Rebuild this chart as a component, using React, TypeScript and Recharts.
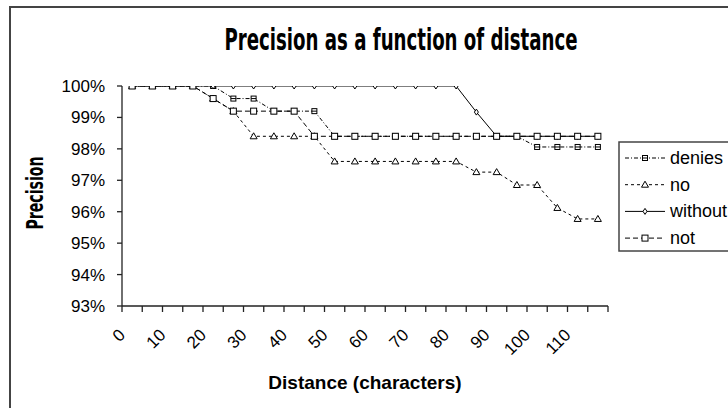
import React from 'react';
import { LineChart, Line, XAxis, YAxis } from 'recharts';

// ---- data ----
const distances = [0, 5, 10, 15, 20, 25, 30, 35, 40, 45, 50, 55, 60, 65, 70, 75, 80, 85, 90, 95, 100, 105, 110, 115];
const deniesValues = [100, 100, 100, 100, 100, 99.6, 99.6, 99.2, 99.2, 99.2, 98.4, 98.4, 98.4, 98.4, 98.4, 98.4, 98.4, 98.4, 98.4, 98.4, 98.06, 98.06, 98.06, 98.06];
const noValues = [100, 100, 100, 100, 99.6, 99.2, 98.4, 98.4, 98.4, 98.4, 97.6, 97.6, 97.6, 97.6, 97.6, 97.6, 97.6, 97.26, 97.26, 96.85, 96.85, 96.12, 95.77, 95.77];
const withoutValues = [100, 100, 100, 100, 100, 100, 100, 100, 100, 100, 100, 100, 100, 100, 100, 100, 100, 99.17, 98.4, 98.4, 98.4, 98.4, 98.4, 98.4];
const notValues = [100, 100, 100, 100, 99.6, 99.2, 99.2, 99.2, 99.2, 98.4, 98.4, 98.4, 98.4, 98.4, 98.4, 98.4, 98.4, 98.4, 98.4, 98.4, 98.4, 98.4, 98.4, 98.4];

const yTicks = [93, 94, 95, 96, 97, 98, 99, 100];
const xLabelTicks = [0, 10, 20, 30, 40, 50, 60, 70, 80, 90, 100, 110];
const xBoundaryTicks = [-2.5, 2.5, 7.5, 12.5, 17.5, 22.5, 27.5, 32.5, 37.5, 42.5, 47.5, 52.5, 57.5, 62.5, 67.5, 72.5, 77.5, 82.5, 87.5, 92.5, 97.5, 102.5, 107.5, 112.5, 117.5];
const xDomain = [-2.5, 117.5];

const seriesNames = ['denies', 'no', 'without', 'not'];
const seriesDash: (string | undefined)[] = ['4 2 1 2', '3 3', undefined, '5 3'];
const seriesMarker = ['squareLine', 'triangle', 'diamond', 'square'];

const data = distances.map((d, i) => ({
  d,
  denies: deniesValues[i],
  no: noValues[i],
  without: withoutValues[i],
  not: notValues[i],
}));

const ARIAL = '"Liberation Sans", Arial, sans-serif';
const NARROW = '"Liberation Sans Narrow", "DejaVu Sans Condensed", "Liberation Sans", sans-serif';

function Marker({ kind, cx, cy }: { kind: string; cx: number; cy: number }) {
  if (cx == null || cy == null) return null;
  switch (kind) {
    case 'square':
      return <rect x={cx - 3} y={cy - 3} width={6} height={6} fill="#fff" stroke="#000" strokeWidth={1} />;
    case 'squareLine':
      return (
        <g>
          <rect x={cx - 2.5} y={cy - 2.5} width={5} height={5} fill="#fff" stroke="#000" strokeWidth={1} />
          <line x1={cx - 2.5} x2={cx + 2.5} y1={cy} y2={cy} stroke="#000" strokeWidth={1} />
        </g>
      );
    case 'triangle':
      return <path d={`M${cx},${cy - 3.5}L${cx + 3.5},${cy + 2.5}L${cx - 3.5},${cy + 2.5}Z`} fill="#fff" stroke="#000" strokeWidth={1} />;
    case 'diamond':
      return <path d={`M${cx},${cy - 3}L${cx + 2},${cy}L${cx},${cy + 3}L${cx - 2},${cy}Z`} fill="#fff" stroke="#000" strokeWidth={1} />;
    default:
      return null;
  }
}

const XLabel = (props: any) => {
  const { x, y, payload } = props;
  const ax = x - 6;
  const ay = y + 24;
  return (
    <text x={ax} y={ay} transform={`rotate(-45 ${ax} ${ay})`} textAnchor="end" fontSize={17} fontFamily={ARIAL} fill="#000">
      {payload.value}
    </text>
  );
};

const EmptyTick = () => <g />;

export default function App() {
  return (
    <div style={{ position: 'absolute', left: 0, top: 0, width: 728, height: 408, overflow: 'hidden', background: '#fff' }}>
      <div style={{ position: 'absolute', left: 9, top: 6, width: 760, height: 440, border: '2px solid #444', boxSizing: 'border-box' }} />
      <div style={{ position: 'absolute', left: 0, top: 0 }}>
        <LineChart width={728} height={408} data={data} margin={{ top: 86, right: 120, bottom: 36, left: 0 }}>
          <XAxis
            xAxisId="a"
            dataKey="d"
            type="number"
            domain={xDomain}
            ticks={xBoundaryTicks}
            tick={<EmptyTick />}
            tickSize={6}
            height={6}
            stroke="#222"
            strokeWidth={1.3}
            allowDataOverflow
            interval={0}
          />
          <XAxis
            xAxisId="b"
            dataKey="d"
            type="number"
            domain={xDomain}
            ticks={xLabelTicks}
            tick={<XLabel />}
            tickLine={false}
            axisLine={false}
            tickSize={0}
            tickMargin={0}
            height={60}
            allowDataOverflow
            interval={0}
          />
          <YAxis
            type="number"
            domain={[93, 100]}
            ticks={yTicks}
            interval={0}
            width={122}
            tickSize={5}
            tickMargin={12}
            tickFormatter={(v: number) => `${v}%`}
            tick={{ fill: '#000', fontSize: 17, fontFamily: ARIAL }}
            stroke="#222"
            strokeWidth={1.3}
            allowDataOverflow
          />
          {seriesNames.map((name, si) => (
            <Line
              key={name}
              xAxisId="a"
              type="linear"
              dataKey={name}
              name={name}
              stroke="#000"
              strokeWidth={1}
              strokeDasharray={seriesDash[si]}
              isAnimationActive={false}
              dot={(p: any) => <Marker key={`${name}-${p.index}`} kind={seriesMarker[si]} cx={p.cx} cy={p.cy} />}
              activeDot={false}
            />
          ))}
        </LineChart>
      </div>
      <svg width={728} height={408} style={{ position: 'absolute', left: 0, top: 0, pointerEvents: 'none' }}>
        <text x={401} y={50} textAnchor="middle" fontFamily={NARROW} fontWeight="bold" fontSize={31} textLength={353} lengthAdjust="spacingAndGlyphs" fill="#000">
          Precision as a function of distance
        </text>
        <text x={43} y={193} transform="rotate(-90 43 193)" textAnchor="middle" fontFamily={NARROW} fontWeight="bold" fontSize={23} textLength={73} lengthAdjust="spacingAndGlyphs" fill="#000">
          Precision
        </text>
        <text x={365} y={389} textAnchor="middle" fontFamily={ARIAL} fontWeight="bold" fontSize={19} fill="#000">
          Distance (characters)
        </text>
        <rect x={619} y={142} width={130} height={109} fill="#fff" stroke="#444" strokeWidth={1.5} />
        {seriesNames.map((name, si) => {
          const cy = 158 + si * 26.7;
          return (
            <g key={name}>
              <line x1={625} x2={665} y1={cy} y2={cy} stroke="#000" strokeWidth={1} strokeDasharray={seriesDash[si]} />
              <Marker kind={seriesMarker[si]} cx={645} cy={cy} />
              <text x={670} y={cy + 6} fontFamily={ARIAL} fontSize={18} fill="#000">
                {name}
              </text>
            </g>
          );
        })}
      </svg>
    </div>
  );
}
